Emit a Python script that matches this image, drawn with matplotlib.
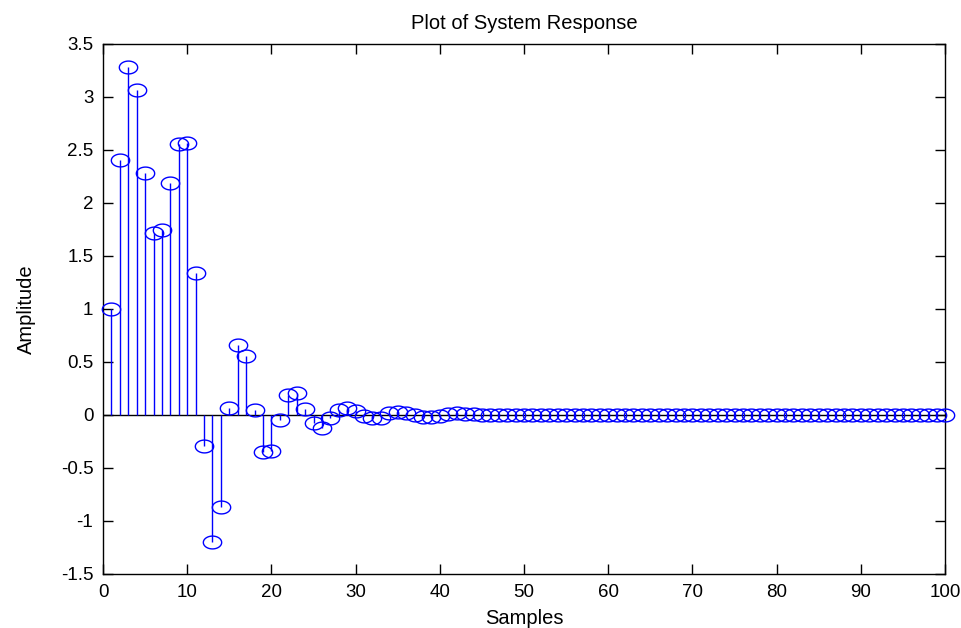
import numpy as np
import matplotlib
matplotlib.use("Agg")
import matplotlib.pyplot as plt
from matplotlib.path import Path

samples = list(range(1, 101))
head_values = [1.00, 2.41, 3.28, 3.07, 2.28, 1.72, 1.745, 2.19, 2.56, 2.57,
               1.34, -0.29, -1.20, -0.865, 0.065, 0.66, 0.56, 0.05, -0.35, -0.34,
               -0.05, 0.19, 0.21, 0.06, -0.08, -0.12, -0.03, 0.05, 0.07, 0.04,
               -0.01, -0.03, -0.03, 0.015, 0.03, 0.02, 0.0, -0.015, -0.015, -0.01,
               0.01, 0.015, 0.01, 0.005]
tail_values = [0.0] * (100 - len(head_values))
amplitude = head_values + tail_values

y_ticks = [-1.5, -1, -0.5, 0, 0.5, 1, 1.5, 2, 2.5, 3, 3.5]
y_tick_labels = ["-1.5", "-1", "-0.5", "0", "0.5", "1", "1.5", "2", "2.5", "3", "3.5"]
x_ticks = list(range(0, 101, 10))

plt.rcParams['font.family'] = ['Liberation Sans', 'DejaVu Sans']

fig = plt.figure(figsize=(9.61, 6.28), dpi=100)
ax = fig.add_axes([0.1072, 0.086, 0.8762, 0.844])

# ellipse marker (MATLAB-like stretched circle)
t = np.linspace(0, 2 * np.pi, 61)
ell = Path(np.column_stack([np.cos(t), 0.70 * np.sin(t)]), closed=True)

ax.axhline(0, color='black', lw=1.0, zorder=1)
ax.vlines(samples, 0, amplitude, colors='#0000ff', lw=1.0, zorder=2)
ax.plot(samples, amplitude, linestyle='none', marker=ell, markersize=13.2,
        markerfacecolor='none', markeredgecolor='#0000ff', markeredgewidth=1.0,
        zorder=3, clip_on=False)

ax.set_xlim(0, 100)
ax.set_ylim(-1.5, 3.5)
ax.set_xticks(x_ticks)
ax.set_yticks(y_ticks)
ax.set_yticklabels(y_tick_labels)
ax.tick_params(direction='in', length=7, width=1, top=True, right=True,
               labelsize=13.5, pad=7)
for s in ax.spines.values():
    s.set_linewidth(1.0)

ax.set_title("Plot of System Response", fontsize=14.5, pad=11)
ax.set_xlabel("Samples", fontsize=14.5, labelpad=6)
ax.set_ylabel("Amplitude", fontsize=14.5, labelpad=18)

fig.savefig("out.png", dpi=100)
